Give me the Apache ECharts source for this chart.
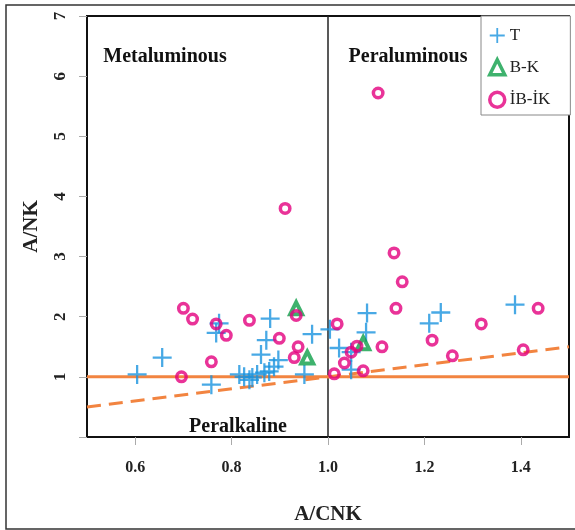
<!DOCTYPE html>
<html>
<head>
<meta charset="utf-8">
<script src="https://cdn.jsdelivr.net/npm/echarts@6/dist/echarts.min.js"></script>
<style>
  html, body { margin: 0; padding: 0; background: #fff; }
  #chart { width: 575px; height: 530px; }
</style>
</head>
<body>
<div id="chart"></div>
<script>
// T (blue crosses): [A/CNK, A/NK]
const groupT = [
  [0.604, 1.04], [0.656, 1.32], [0.758, 0.87], [0.768, 1.73], [0.774, 1.89],
  [0.880, 1.97], [0.872, 1.61], [0.861, 1.37], [0.897, 1.28], [0.888, 1.17],
  [0.878, 1.09], [0.967, 1.71], [0.951, 1.04], [0.816, 1.04], [0.826, 1.00],
  [0.837, 0.95], [0.843, 0.99], [0.853, 1.04], [0.868, 1.07], [1.004, 1.79],
  [1.023, 1.48], [1.048, 1.41], [1.048, 1.12], [1.081, 2.06], [1.079, 1.74],
  [1.210, 1.89], [1.234, 2.07], [1.388, 2.20]
]
// B-K (green triangles)
const groupBK = [[0.934, 2.14], [0.957, 1.32], [1.073, 1.56]]
// İB-İK (magenta circles)
const groupIBIK = [
  [0.696, 1.00], [0.700, 2.14], [0.719, 1.96], [0.758, 1.25], [0.768, 1.88],
  [0.789, 1.69], [0.837, 1.94], [0.899, 1.64], [0.911, 3.80], [0.934, 2.02],
  [0.938, 1.50], [0.930, 1.32], [1.013, 1.05], [1.019, 1.88], [1.034, 1.23],
  [1.048, 1.41], [1.060, 1.51], [1.073, 1.10], [1.104, 5.72], [1.112, 1.50],
  [1.137, 3.06], [1.141, 2.14], [1.154, 2.58], [1.216, 1.61], [1.258, 1.35],
  [1.318, 1.88], [1.405, 1.45], [1.436, 2.14]
]

// field boundaries
const lineNK1 = [[0.5, 1], [1.5, 1]]          // A/NK = 1
const lineCNK1 = [[1, 0], [1, 7]]             // A/CNK = 1
const lineEqual = [[0.5, 0.5], [1.5, 1.5]]    // A/NK = A/CNK

const xTicks = [0.6, 0.8, 1.0, 1.2, 1.4]
const yTicks = [0, 1, 2, 3, 4, 5, 6, 7]
const yLabels = [1, 2, 3, 4, 5, 6, 7]

const serif = '"Liberation Serif", "Times New Roman", serif'
const blue = '#1A94DE'
const green = '#0E9F48'
const pink = '#E4007E'
const orange = '#F28440'
const crossPath = 'path://M-1.2,-10 L1.2,-10 L1.2,-1.2 L10,-1.2 L10,1.2 L1.2,1.2 L1.2,10 L-1.2,10 L-1.2,1.2 L-10,1.2 L-10,-1.2 L-1.2,-1.2 Z'
const clear = 'rgba(255,255,255,0)'

const chart = echarts.init(document.getElementById('chart'))

const regionText = (text, x, y) => ({
  type: 'text', x, y, z: 50,
  style: {
    text, fill: '#111', font: 'bold 20px ' + serif,
    align: 'center', verticalAlign: 'middle'
  }
})

chart.setOption({
  animation: false,
  backgroundColor: '#fff',
  grid: {
    left: 87, right: 6, top: 16, bottom: 87,
    show: true, borderColor: '#111', borderWidth: 2
  },
  xAxis: {
    type: 'value', min: 0.5, max: 1.5,
    name: 'A/CNK', nameLocation: 'middle', nameGap: 67,
    nameTextStyle: { fontFamily: serif, fontWeight: 'bold', fontSize: 21, color: '#222' },
    axisLine: { show: false },
    splitLine: { show: false },
    axisTick: { show: true, length: 8, customValues: xTicks, lineStyle: { color: '#aaa' } },
    axisLabel: {
      customValues: xTicks, margin: 23,
      fontFamily: serif, fontWeight: 'bold', fontSize: 16, color: '#222',
      formatter: v => v.toFixed(1)
    }
  },
  yAxis: {
    type: 'value', min: 0, max: 7, interval: 1,
    name: 'A/NK', nameLocation: 'middle', nameGap: 45, nameRotate: 90,
    nameTextStyle: { fontFamily: serif, fontWeight: 'bold', fontSize: 21, color: '#222' },
    axisLine: { show: false },
    splitLine: { show: false },
    axisTick: { show: true, length: 8, customValues: yTicks, lineStyle: { color: '#aaa' } },
    axisLabel: {
      customValues: yLabels, rotate: 90, margin: 18,
      fontFamily: serif, fontWeight: 'bold', fontSize: 17, color: '#222'
    }
  },
  legend: {
    data: [
      { name: 'T' },
      { name: 'B-K', itemStyle: { color: clear, borderColor: green, borderWidth: 3.5 } },
      { name: 'İB-İK', itemStyle: { color: clear, borderColor: pink, borderWidth: 3.5 } }
    ],
    orient: 'vertical', left: 481, top: 16,
    padding: [11, 20, 6, 7], itemGap: 14,
    itemWidth: 15, itemHeight: 15,
    borderColor: '#888', borderWidth: 1,
    backgroundColor: '#fff',
    textStyle: { fontFamily: serif, fontSize: 17, color: '#222' }
  },
  graphic: [
    { type: 'rect', shape: { x: 6, y: 5, width: 575, height: 524 }, silent: true,
      style: { fill: 'none', stroke: '#333', lineWidth: 1.5 }, z: -10 },
    regionText('Metaluminous', 165, 57),
    regionText('Peraluminous', 408, 57),
    regionText('Peralkaline', 238, 427)
  ],
  series: [
    {
      type: 'line', data: lineCNK1, symbol: 'none', z: 1, silent: true,
      lineStyle: { color: '#222', width: 1.5 }
    },
    {
      type: 'line', data: lineNK1, symbol: 'none', z: 1, silent: true,
      lineStyle: { color: orange, width: 3 }
    },
    {
      type: 'line', data: lineEqual, symbol: 'none', z: 1, silent: true,
      lineStyle: { color: orange, width: 3, type: [14, 8] }
    },
    {
      name: 'T', type: 'scatter', data: groupT, z: 3,
      symbol: crossPath, symbolSize: 19,
      itemStyle: { color: blue }
    },
    {
      name: 'B-K', type: 'scatter', data: groupBK, z: 4,
      symbol: 'triangle', symbolSize: 12,
      itemStyle: { color: clear, borderColor: green, borderWidth: 4 }
    },
    {
      name: 'İB-İK', type: 'scatter', data: groupIBIK, z: 5,
      symbol: 'circle', symbolSize: 9.5,
      itemStyle: { color: clear, borderColor: pink, borderWidth: 3.5 }
    }
  ]
})
</script>
</body>
</html>
